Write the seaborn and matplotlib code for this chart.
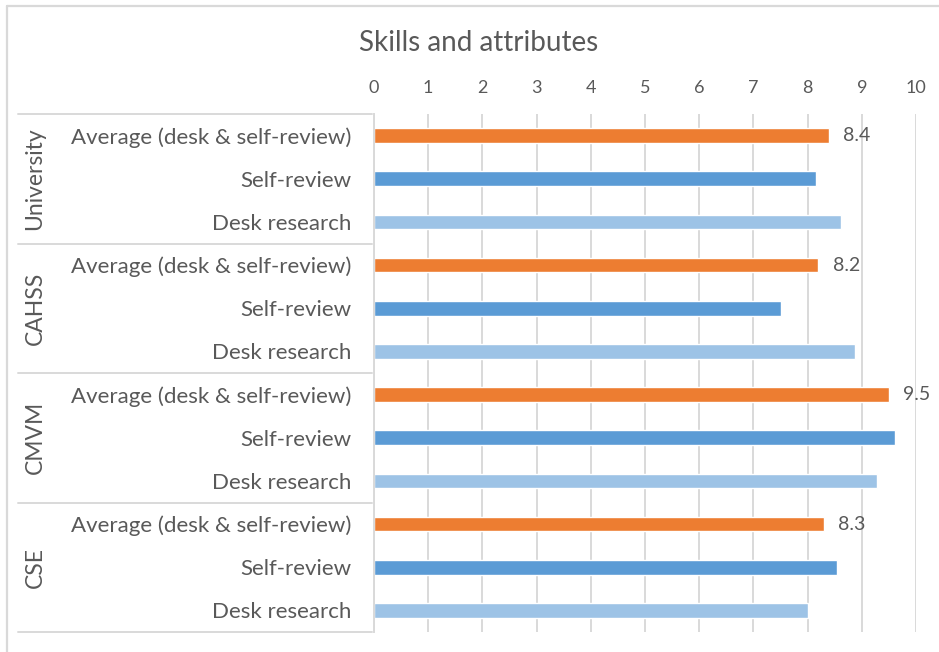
import matplotlib
matplotlib.use("Agg")
import matplotlib.pyplot as plt
import matplotlib.transforms as mtransforms
from matplotlib.lines import Line2D
import seaborn as sns
import pandas as pd

# Scores per college (out of 10)
groups = ["University", "CAHSS", "CMVM", "CSE"]
series = ["Average (desk & self-review)", "Self-review", "Desk research"]
average = [8.4, 8.2, 9.5, 8.3]
self_review = [8.15, 7.5, 9.62, 8.55]
desk_research = [8.62, 8.87, 9.28, 8.0]
x_ticks = list(range(0, 11))

colors = {series[0]: "#ED7D31", series[1]: "#5B9BD5", series[2]: "#9DC3E6"}
text_color = "#595959"
line_color = "#D9D9D9"

records = []
for i, g in enumerate(groups):
    for s, vals in zip(series, [average, self_review, desk_research]):
        records.append({"row": f"{g}|{s}", "group": g, "series": s, "value": vals[i]})
df = pd.DataFrame(records)
rows = list(df["row"])

sns.set_theme(style="white")
plt.rcParams["font.family"] = ["Lato", "DejaVu Sans"]

W, H = 939, 652
fig = plt.figure(figsize=(W / 100, H / 100), dpi=100)
ax = fig.add_axes([374 / W, 1 - 632 / H, 542 / W, 518 / H])

sns.barplot(data=df, y="row", x="value", hue="series", order=rows,
            hue_order=series, palette=colors, dodge=False, width=0.34,
            legend=False, ax=ax, saturation=1)

ax.set_xlim(0, 10)
ax.set_ylim(len(rows) - 0.5, -0.5)
ax.set_xticks(x_ticks)
ax.set_xticklabels([str(t) for t in x_ticks])
ax.xaxis.tick_top()
ax.set_xlabel("")
ax.set_ylabel("")
ax.set_yticks(range(len(rows)))
ax.set_yticklabels(list(df["series"]))
ax.tick_params(axis="x", length=0, pad=13, labelsize=13, colors=text_color)
ax.tick_params(axis="y", length=0, pad=16, labelsize=16, colors=text_color)
ax.xaxis.grid(True, color=line_color, lw=1.4)
ax.set_axisbelow(True)
for side in ["top", "right", "bottom"]:
    ax.spines[side].set_visible(False)
ax.spines["left"].set_color(line_color)
ax.spines["left"].set_linewidth(1.4)

# value labels on the average bars
for i, v in enumerate(average):
    ax.text(v + 0.26, i * 3, f"{v:.1f}", va="center", ha="left",
            fontsize=14, color=text_color)

# multi-level category axis: separators and group names
blend = mtransforms.blended_transform_factory(fig.transFigure, ax.transData)
for b in [-0.5, 2.5, 5.5, 8.5, 11.5]:
    fig.add_artist(Line2D([18 / W, 372 / W], [b, b], transform=blend,
                          color=line_color, lw=1.4, clip_on=False))
for i, g in enumerate(groups):
    fig.text(35 / W, i * 3 + 1, g, rotation=90, va="center", ha="center",
             fontsize=16.5, color=text_color, transform=blend)

fig.text(479 / W, 1 - 43 / H, "Skills and attributes", ha="center",
         va="center", fontsize=20, color=text_color)

# chart area border
fig.add_artist(Line2D([7 / W, 1], [1 - 6 / H, 1 - 6 / H], transform=fig.transFigure,
                      color=line_color, lw=1.6))
fig.add_artist(Line2D([7 / W, 7 / W], [0, 1 - 6 / H], transform=fig.transFigure,
                      color=line_color, lw=1.6))

fig.savefig("out.png", dpi=100)
